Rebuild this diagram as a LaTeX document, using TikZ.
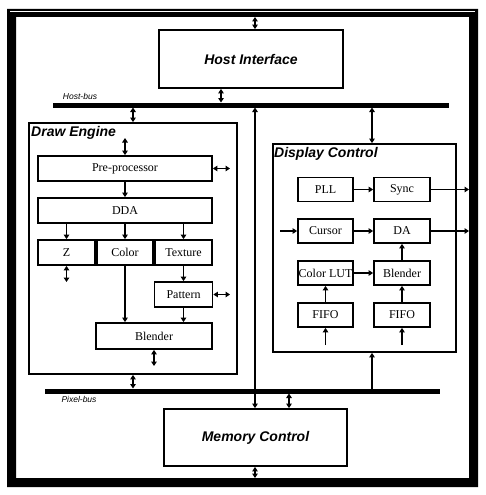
\documentclass[tikz,border=0pt]{standalone}
\usepackage{fontspec}
\setmainfont{Liberation Serif}
\setsansfont{Liberation Sans}
\usetikzlibrary{arrows.meta}
\begin{document}
\begin{tikzpicture}[x=1pt,y=-1pt,
  blk/.style={draw,line width=1.8pt,inner sep=0pt,font=\fontsize{12}{12}\selectfont},
  grp/.style={draw,line width=1.8pt,inner sep=0pt},
  big/.style={font=\sffamily\bfseries\itshape\fontsize{14}{14}\selectfont},
  buslbl/.style={font=\sffamily\itshape\fontsize{8.5}{8.5}\selectfont},
  bus/.style={line width=5pt},
  con/.style={line width=1.8pt,>={Triangle[width=5.5pt,length=4.5pt]}},
]
\useasboundingbox (0,0) rectangle (486,495);
% outer frame
\fill[black,even odd rule] (7,9) rectangle (478,487) (16,17) rectangle (469,478);
\draw[white,line width=0.8pt] (10,11.6) -- (475,11.6);

% main blocks
\node[grp,big,minimum width=184,minimum height=58] (hi) at (251,59) {Host Interface};
\node[grp,big,minimum width=183,minimum height=57] (mc) at (255.5,437.5) {Memory Control};
\node[grp,minimum width=208,minimum height=251] (de) at (133,248.5) {};
\node[big,anchor=north west,inner sep=0pt] (delbl) at (31,126) {Draw Engine};
\node[grp,minimum width=183,minimum height=208] (dc) at (364.5,248) {};
\node[big,anchor=north west,inner sep=0pt] (dclbl) at (274,147) {Display Control};

% buses
\coordinate (hbL) at (53,105);
\coordinate (hbR) at (449,105);
\draw[bus] (hbL) -- (hbR);
\node[buslbl] (hblbl) at (80,96) {Host-bus};
\coordinate (pbL) at (45,391);
\coordinate (pbR) at (440,391);
\draw[bus] (pbL) -- (pbR);
\node[buslbl] (pblbl) at (79,399) {Pixel-bus};

% draw engine blocks
\node[blk,minimum width=174,minimum height=25] (pre) at (125,168.5) {Pre-processor};
\node[blk,minimum width=174,minimum height=25] (dda) at (125,210.5) {DDA};
\node[blk,minimum width=57,minimum height=25] (z) at (66.5,252.5) {Z};
\node[blk,minimum width=56,minimum height=25] (col) at (125,252.5) {Color};
\node[blk,minimum width=57,minimum height=25] (tex) at (183.5,252.5) {Texture};
\node[blk,minimum width=58,minimum height=25] (pat) at (183.5,294.5) {Pattern};
\node[blk,minimum width=116,minimum height=26] (bl) at (154,336) {Blender};

% display control blocks
\node[blk,minimum width=55,minimum height=24] (pll) at (325.5,189.5) {PLL};
\node[blk,minimum width=56,minimum height=24] (sync) at (402,189.5) {Sync};
\node[blk,minimum width=55,minimum height=24] (cur) at (325.5,231) {Cursor};
\node[blk,minimum width=56,minimum height=24] (da) at (402,231) {DA};
\node[blk,minimum width=55,minimum height=24] (lut) at (325.5,273) {Color LUT};
\node[blk,minimum width=56,minimum height=24] (dbl) at (402,273) {Blender};
\node[blk,minimum width=55,minimum height=24] (f1) at (325.5,315) {FIFO};
\node[blk,minimum width=56,minimum height=24] (f2) at (402,315) {FIFO};

% free ends
\coordinate (ft) at (255,17);
\coordinate (fb) at (255,478);
\coordinate (hbA) at (221,102.5);
\coordinate (hbB) at (133,107.5);
\coordinate (hbC) at (255,107.5);
\coordinate (hbD) at (372,107.5);
\coordinate (pbA) at (133,388.5);
\coordinate (pbB) at (289,393.5);
\coordinate (pbC) at (372,391);
\coordinate (ppu) at (125,138);
\coordinate (ppr) at (230,168.5);
\coordinate (zb) at (66.5,282);
\coordinate (patr) at (230,294.5);
\coordinate (blb) at (154,366);
\coordinate (cin) at (280,231);
\coordinate (f1in) at (325.5,345);
\coordinate (f2in) at (402,345);
\coordinate (so) at (469,189.5);
\coordinate (dao) at (469,231);

% connectors: system level
\draw[con,<->] (ft) -- (ft |- hi.north);
\draw[con,<->] (hi.south -| hbA) -- (hbA);
\draw[con,<->] (hbB) -- (hbB |- de.north);
\draw[con,<->] (hbC) -- (hbC |- mc.north);
\draw[con,<->] (hbD) -- (hbD |- dc.north);
\draw[con,<->] (de.south -| pbA) -- (pbA);
\draw[con,<->] (pbB) -- (pbB |- mc.north);
\draw[con,->] (pbC) -- (pbC |- dc.south);
\draw[con,<->] (mc.south -| fb) -- (fb);

% connectors: draw engine
\draw[con,<->] (ppu) -- (pre.north);
\draw[con,<->] (pre.east) -- (ppr);
\draw[con,->] (pre.south) -- (dda.north);
\draw[con,->] (dda.south -| z) -- (z.north);
\draw[con,->] (dda.south -| col) -- (col.north);
\draw[con,->] (dda.south -| tex) -- (tex.north);
\draw[con,<->] (z.south) -- (zb);
\draw[con,->] (col.south) -- (col.south |- bl.north);
\draw[con,->] (tex.south) -- (pat.north);
\draw[con,->] (pat.south) -- (pat.south |- bl.north);
\draw[con,<->] (pat.east) -- (patr);
\draw[con,<->] (bl.south) -- (blb);

% connectors: display control
\draw[con,->] (pll.east) -- (sync.west);
\draw[con,->] (cin) -- (cur.west);
\draw[con,->] (cur.east) -- (da.west);
\draw[con,->] (lut.east) -- (dbl.west);
\draw[con,->] (f1.north) -- (lut.south);
\draw[con,->] (f2.north) -- (dbl.south);
\draw[con,->] (dbl.north) -- (da.south);
\draw[con,->] (f1in) -- (f1.south);
\draw[con,->] (f2in) -- (f2.south);
\draw[con,->] (sync.east) -- (so);
\draw[con,->] (da.east) -- (dao);
\end{tikzpicture}
\end{document}
